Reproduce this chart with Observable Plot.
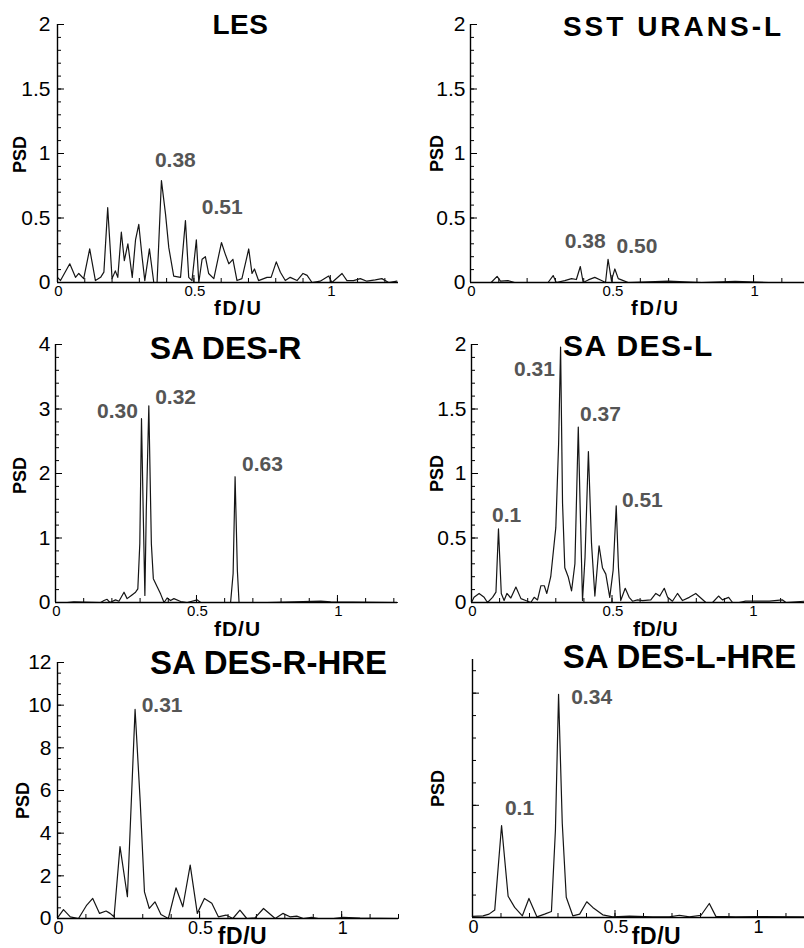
<!DOCTYPE html>
<html><head><meta charset="utf-8">
<script src="https://cdn.jsdelivr.net/npm/d3@7"></script>
<script src="https://cdn.jsdelivr.net/npm/@observablehq/plot@0.6"></script>
<style>
body{margin:0;background:#fff;}
#fig{position:relative;width:804px;height:948px;overflow:hidden;background:#fff;}
#fig svg{position:absolute;overflow:visible;background:transparent;}
</style></head><body><div id="fig"></div>
<script>
// ---------- LES ----------
const lesX = [0,0.011,0.045,0.066,0.078,0.096,0.118,0.139,0.158,0.170,0.184,0.200,0.212,0.221,0.234,0.245,0.258,0.274,0.286,0.298,0.310,0.320,0.337,0.353,0.365,0.381,0.396,0.408,0.426,0.451,0.469,0.481,0.493,0.509,0.518,0.530,0.542,0.554,0.573,0.601,0.615,0.628,0.643,0.658,0.676,0.701,0.713,0.722,0.737,0.768,0.783,0.802,0.817,0.835,0.853,0.878,0.900,0.915,0.933,0.963,0.994,1.006,1.043,1.061,1.085,1.110,1.134,1.165,1.189,1.214,1.244];
const lesY = [0.04,0.015,0.145,0.04,0.07,0.03,0.26,0.015,0.04,0.08,0.58,0.03,0.09,0.04,0.39,0.17,0.30,0.04,0.33,0.45,0.20,0.015,0.26,0,0,0.79,0.53,0.27,0.05,0.04,0.48,0.04,0.015,0.33,0,0.18,0.20,0.07,0.03,0.31,0.22,0.145,0.18,0.015,0.03,0.26,0.07,0.105,0.015,0.04,0.04,0.16,0.08,0.015,0.04,0.015,0.07,0.055,0,0.01,0.05,0,0.07,0.015,0.015,0.03,0.01,0.02,0.03,0,0.01];
const lesPeakText = ["0.38","0.51"];
const lesPeakX = [0.432,0.604];
const lesPeakY = [0.95,0.58];

// ---------- SST URANS-L ----------
const sstX = [0,0.073,0.094,0.106,0.132,0.156,0.227,0.274,0.292,0.303,0.333,0.357,0.374,0.388,0.398,0.416,0.439,0.463,0.477,0.486,0.498,0.510,0.522,0.540,0.557,0.699,0.817,0.935,1.053,1.18];
const sstY = [0,0,0.047,0.01,0.015,0,0,0,0.054,0,0.015,0.03,0.023,0.124,0,0.02,0.04,0.015,0,0.18,0.015,0.105,0.03,0.015,0,0.01,0,0.008,0,0];
const sstPeakText = ["0.38","0.50"];
const sstPeakX = [0.405,0.588];
const sstPeakY = [0.32,0.28];

// ---------- SA DES-R ----------
const desRX = [0,0.041,0.065,0.16,0.172,0.183,0.193,0.213,0.225,0.243,0.254,0.269,0.284,0.292,0.299,0.305,0.311,0.317,0.322,0.331,0.340,0.347,0.361,0.373,0.385,0.396,0.408,0.420,0.444,0.467,0.503,0.515,0.621,0.630,0.637,0.645,0.651,0.751,0.941,0.976,1.213];
const desRY = [0,0,0.01,0,0.03,0.05,0,0.04,0.02,0.16,0.06,0.11,0.16,0.21,0.91,2.85,1.43,0.11,1.43,3.05,0.91,0.37,0.24,0.13,0,0.07,0.03,0.06,0.015,0,0.04,0,0,0.45,1.95,0.5,0,0,0.02,0.01,0];
const desRPeakText = ["0.30","0.32","0.63"];
const desRPeakX = [0.22,0.426,0.734];
const desRPeakY = [2.96,3.18,2.14];

// ---------- SA DES-L ----------
const desLX = [0,0.009,0.027,0.045,0.057,0.075,0.087,0.096,0.106,0.116,0.126,0.14,0.158,0.176,0.193,0.211,0.223,0.235,0.247,0.259,0.268,0.282,0.300,0.310,0.317,0.324,0.332,0.344,0.356,0.368,0.380,0.387,0.395,0.404,0.416,0.427,0.439,0.454,0.466,0.478,0.492,0.504,0.515,0.523,0.531,0.547,0.561,0.573,0.591,0.609,0.638,0.656,0.670,0.686,0.698,0.715,0.733,0.751,0.775,0.798,0.816,0.834,0.858,0.879,0.893,0.915,0.929,0.952,0.975,1.06,1.107,1.119,1.185];
const desLY = [0,0.04,0.07,0.04,0,0.04,0.08,0.57,0.07,0.015,0.07,0.035,0.12,0.03,0.015,0,0.04,0.02,0.13,0.13,0.07,0.2,0.58,1.23,1.98,0.77,0.27,0.2,0.09,0.3,1.36,0.71,0.015,0.35,1.17,0.46,0.05,0.44,0.27,0.22,0.04,0.25,0.75,0.27,0.015,0.11,0.04,0.01,0.02,0.015,0.02,0.07,0.05,0.11,0.04,0.01,0.07,0.015,0.04,0.07,0.035,0,0,0.05,0.02,0.04,0,0,0.01,0.01,0.02,0,0.01];
const desLPeakText = ["0.31","0.37","0.1","0.51"];
const desLPeakX = [0.224,0.459,0.125,0.608];
const desLPeakY = [1.81,1.46,0.68,0.79];

// ---------- SA DES-R-HRE ----------
const hreRX = [0,0.021,0.045,0.074,0.103,0.124,0.148,0.171,0.185,0.199,0.220,0.246,0.273,0.291,0.306,0.323,0.343,0.364,0.390,0.417,0.441,0.467,0.492,0.517,0.543,0.566,0.593,0.617,0.642,0.666,0.695,0.725,0.766,0.793,0.818,0.842,0.865,0.894,0.918,0.971,1.006,1.065,1.2];
const hreRY = [0.03,0.42,0.08,0,0.63,0.94,0.24,0.35,0.24,0.08,3.37,1.02,9.8,5.49,1.25,0.47,0.78,0.19,0,1.44,0.55,2.5,0.24,0.94,0.71,0.08,0.16,0,0.39,0,0.03,0.47,0,0.24,0.08,0.11,0,0.05,0,0,0.05,0.02,0];
const hreRPeakText = ["0.31"];
const hreRPeakX = [0.368];
const hreRPeakY = [9.98];

// ---------- SA DES-L-HRE ----------
const hreLX = [0,0.037,0.058,0.078,0.102,0.125,0.148,0.175,0.198,0.226,0.253,0.277,0.291,0.302,0.315,0.329,0.352,0.376,0.401,0.422,0.457,0.492,0.551,0.632,0.691,0.726,0.761,0.802,0.831,0.854,0.924,1.0,1.165];
const hreLY = [0.01,0.015,0.03,0.066,0.82,0.19,0.09,0.015,0.17,0.006,0.03,0.054,0.78,1.99,0.84,0.18,0.015,0.03,0.14,0.09,0.024,0.006,0.012,0.006,0.006,0.02,0.006,0.02,0.125,0.01,0.006,0.008,0.006];
const hreLPeakText = ["0.34","0.1"];
const hreLPeakX = [0.418,0.165];
const hreLPeakY = [1.96,0.97];

// ---------- tick labels ----------
const xTickLabels = [0, 0.5, 1];
const yTicksPSD2 = [0, 0.5, 1, 1.5, 2];
const yTicksPSD4 = [0, 1, 2, 3, 4];
const yTicksPSD12 = [0, 2, 4, 6, 8, 10, 12];
const yTicksNone = [];

const titles = ["LES","SST URANS-L","SA DES-R","SA DES-L","SA DES-R-HRE","SA DES-L-HRE"];

const FONT = '"Liberation Sans", Arial, Helvetica, sans-serif';

const panels = [
  {title:titles[0], xs:lesX, ys:lesY, pt:lesPeakText, px:lesPeakX, py:lesPeakY,
   left:0, top:0, width:402, height:310, ml:57, mt:24, mr:4, mb:28, xmax:1.25, ymax:2,
   yLab:yTicksPSD2, yMinorStep:0.1, yMajorStep:0.5, yGap:7, xLabSize:15,
   tx:240, ty:33, tSize:28, tSp:0.5, fx:238, fy:314, fSize:20, fSp:2, psdX:20, psdY:154},
  {title:titles[1], xs:sstX, ys:sstY, pt:sstPeakText, px:sstPeakX, py:sstPeakY,
   left:402, top:0, width:402, height:310, ml:68, mt:24, mr:0, mb:28, xmax:1.18, ymax:2,
   yLab:yTicksPSD2, yMinorStep:0.1, yMajorStep:0.5, yGap:5, xLabSize:15,
   tx:673, ty:35, tSize:28, tSp:3, fx:655, fy:314, fSize:20, fSp:2, psdX:437, psdY:153},
  {title:titles[2], xs:desRX, ys:desRY, pt:desRPeakText, px:desRPeakX, py:desRPeakY,
   left:0, top:310, width:402, height:320, ml:55, mt:34, mr:5, mb:28, xmax:1.213, ymax:4,
   yLab:yTicksPSD4, yMinorStep:0.2, yMajorStep:1, yGap:5, xLabSize:15,
   tx:225, ty:358, tSize:32, tSp:0, fx:237, fy:635, fSize:21, fSp:1, psdX:20, psdY:475},
  {title:titles[3], xs:desLX, ys:desLY, pt:desLPeakText, px:desLPeakX, py:desLPeakY,
   left:402, top:310, width:402, height:320, ml:69, mt:34, mr:0, mb:28, xmax:1.185, ymax:2,
   yLab:yTicksPSD2, yMinorStep:0.1, yMajorStep:0.5, yGap:5, xLabSize:15,
   tx:638, ty:355, tSize:30, tSp:1.5, fx:655, fy:635, fSize:21, fSp:0.5, psdX:437, psdY:473},
  {title:titles[4], xs:hreRX, ys:hreRY, pt:hreRPeakText, px:hreRPeakX, py:hreRPeakY,
   left:0, top:630, width:402, height:318, ml:57, mt:32, mr:4, mb:30, xmax:1.2, ymax:12,
   yLab:yTicksPSD12, yMinorStep:0.5, yMajorStep:2, yGap:6, xLabSize:18,
   tx:268, ty:673, tSize:33, tSp:0, fx:242, fy:943, fSize:23, fSp:0.5, psdX:23, psdY:800},
  {title:titles[5], xs:hreLX, ys:hreLY, pt:hreLPeakText, px:hreLPeakX, py:hreLPeakY,
   left:402, top:630, width:402, height:318, ml:70, mt:29, mr:0, mb:31, xmax:1.165, ymax:2.3,
   yLab:yTicksNone, yMinorStep:0.2, yMajorStep:1, yGap:5, xLabSize:18,
   tx:679, ty:667, tSize:33, tSp:0, fx:656, fy:943, fSize:23, fSp:0.5, psdX:438, psdY:788}
];

function range(max, step) {
  const out = [];
  for (let i = 0; i * step <= max + 1e-9; i++) out.push(+(i * step).toFixed(6));
  return out;
}

const fig = document.getElementById("fig");

for (const p of panels) {
  const fw = p.width - p.ml - p.mr, fh = p.height - p.mt - p.mb;
  const rows = p.xs.map((x, i) => ({x, y: p.ys[i]}));
  const at = (px, py) => ({frameAnchor: "top-left", dx: px - p.left - p.ml, dy: py - p.top - p.mt});
  const yMinor = range(p.ymax, p.yMinorStep);
  const yMajor = yMinor.filter(v => Math.abs(v / p.yMajorStep - Math.round(v / p.yMajorStep)) < 1e-6);
  const xMinor = range(p.xmax, 0.1);
  const xMajor = xMinor.filter(v => Math.abs(v / 0.5 - Math.round(v / 0.5)) < 1e-6);

  const svg = Plot.plot({
    width: p.width, height: p.height,
    marginLeft: p.ml, marginTop: p.mt, marginRight: p.mr, marginBottom: p.mb,
    style: {fontFamily: FONT, background: "transparent", overflow: "visible"},
    x: {domain: [0, p.xmax], axis: null},
    y: {domain: [0, p.ymax], axis: null},
    marks: [
      Plot.tickY(yMinor, {y: d => d, stroke: "#000", strokeWidth: 1, insetRight: fw - 4}),
      Plot.tickY(yMajor, {y: d => d, stroke: "#000", strokeWidth: 1, insetRight: fw - 7}),
      Plot.tickX(xMinor, {x: d => d, stroke: "#000", strokeWidth: 1, insetTop: fh - 4}),
      Plot.tickX(xMajor, {x: d => d, stroke: "#000", strokeWidth: 1, insetTop: fh - 7}),
      Plot.line(rows, {x: "x", y: "y", stroke: "#151515", strokeWidth: 1.2}),
      Plot.ruleX([0], {stroke: "#000", strokeWidth: 1.4}),
      Plot.ruleY([0], {stroke: "#000", strokeWidth: 1.4}),
      Plot.text(p.yLab, {y: d => d, text: d => String(d), frameAnchor: "left", textAnchor: "end", dx: -p.yGap, fontSize: 21, fill: "#000"}),
      Plot.text(xTickLabels, {x: d => d, text: d => String(d), frameAnchor: "bottom", lineAnchor: "top", dy: 3, dx: 1, fontSize: p.xLabSize, fill: "#000"}),
      Plot.text(p.pt, {x: (d, i) => p.px[i], y: (d, i) => p.py[i], text: d => d, fill: "#555", fontWeight: "bold", fontSize: 21}),
      Plot.text([p.title], {...at(p.tx, p.ty), lineAnchor: "bottom", textAnchor: "middle", fontWeight: "bold", fontSize: p.tSize, fill: "#000"}),
      Plot.text(["fD/U"], {...at(p.fx, p.fy), lineAnchor: "bottom", textAnchor: "middle", fontWeight: "bold", fontSize: p.fSize, fill: "#000"}),
      Plot.text(["PSD"], {...at(p.psdX, p.psdY), lineAnchor: "middle", textAnchor: "middle", rotate: -90, fontWeight: "bold", fontSize: 18, fill: "#000"})
    ]
  });
  svg.style.position = "absolute";
  svg.style.left = p.left + "px";
  svg.style.top = p.top + "px";
  svg.style.overflow = "visible";
  svg.style.background = "transparent";
  const s = d3.select(svg);
  s.selectAll("text").filter(function () { return this.textContent === p.title; })
    .attr("letter-spacing", p.tSp).style("letter-spacing", p.tSp + "px");
  s.selectAll("text").filter(function () { return this.textContent === "fD/U"; })
    .attr("letter-spacing", p.fSp).style("letter-spacing", p.fSp + "px");
  fig.appendChild(svg);
}
</script>
</body></html>
